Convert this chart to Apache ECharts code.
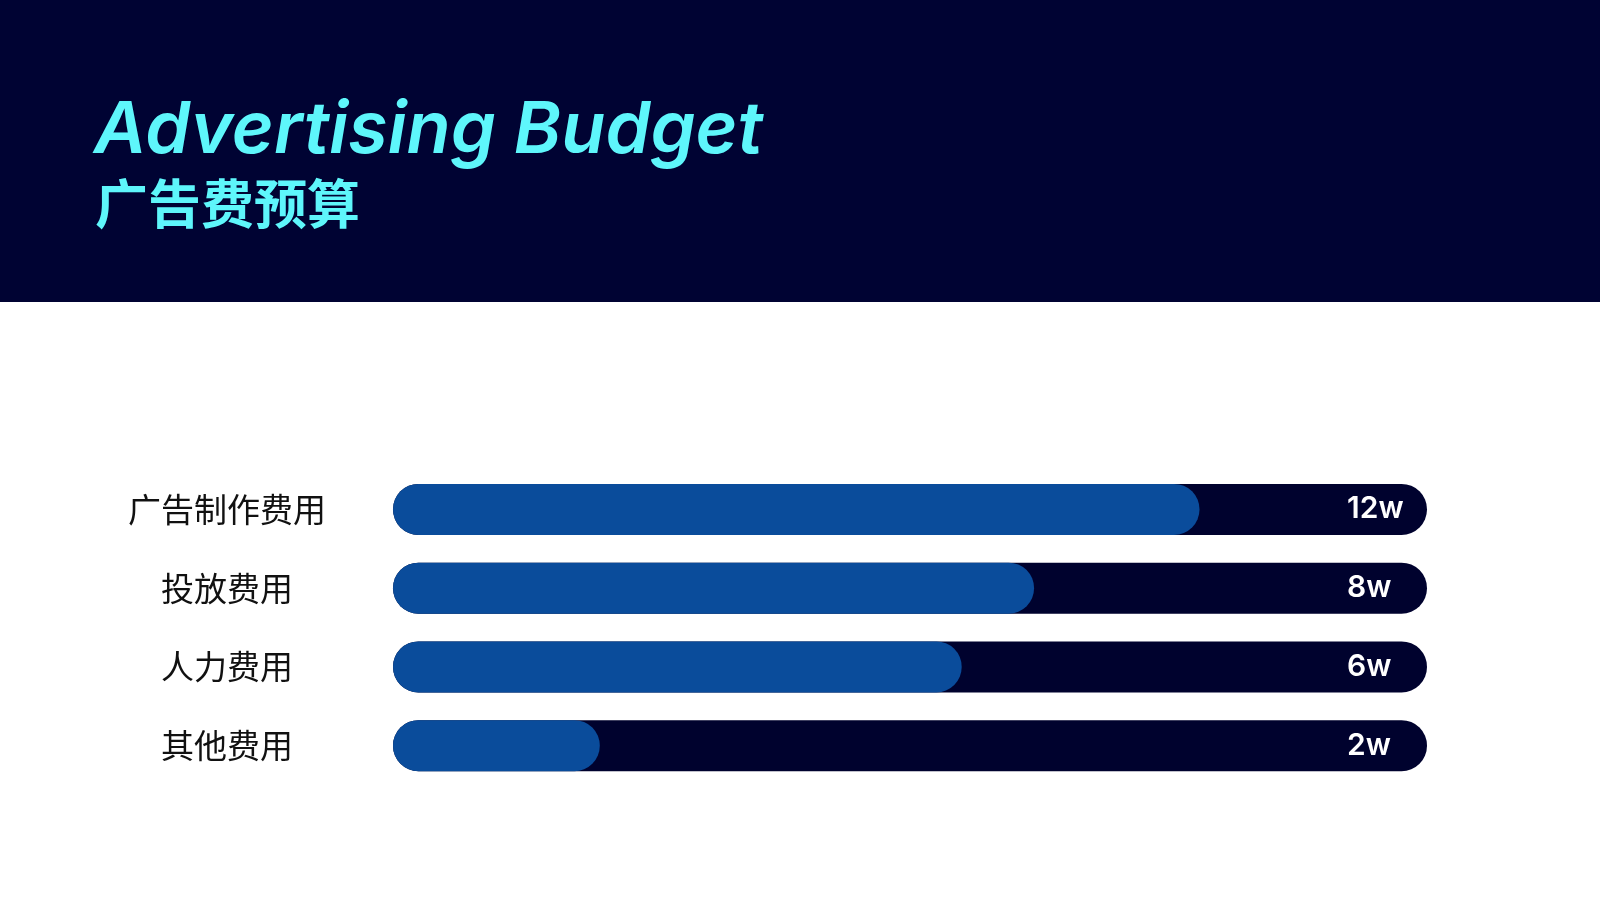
<!DOCTYPE html>
<html>
<head>
<meta charset="utf-8">
<script src="https://cdn.jsdelivr.net/npm/echarts@6/dist/echarts.min.js"></script>
<style>
  html, body { margin: 0; padding: 0; background: #ffffff; }
  #main { width: 1600px; height: 900px; }
</style>
</head>
<body>
<div id="main"></div>
<script>
// 数据
var categories = ['广告制作费用', '投放费用', '人力费用', '其他费用'];
var amounts = ['12w', '8w', '6w', '2w'];
var progress = [78, 62, 55, 20];
var trackMax = [100, 100, 100, 100];

var myChart = echarts.init(document.getElementById('main'));

var option = {
    backgroundColor: '#ffffff',
    graphic: [{
        type: 'rect',
        left: 0,
        top: 0,
        z: -10,
        shape: { width: 1600, height: 302 },
        style: { fill: '#000333' }
    }],
    title: [{
        text: 'Advertising Budget',
        left: 89,
        top: 90,
        textStyle: {
            color: '#5ef6fb',
            fontFamily: 'Inter',
            fontStyle: 'italic',
            fontWeight: 600,
            fontSize: 72
        }
    }, {
        text: '广告费预算',
        left: 90,
        top: 172,
        textStyle: {
            color: '#5ef6fb',
            fontFamily: 'Noto Sans CJK SC',
            fontWeight: 'bold',
            fontSize: 53
        }
    }],
    grid: {
        left: 393,
        right: 173,
        top: 470,
        height: 315
    },
    xAxis: {
        type: 'value',
        min: 0,
        max: 100,
        show: false
    },
    yAxis: {
        type: 'category',
        data: categories,
        inverse: true,
        axisLine: { show: false },
        axisTick: { show: false },
        axisLabel: {
            align: 'center',
            margin: 166,
            color: '#111111',
            fontFamily: 'Noto Sans CJK SC',
            fontSize: 33
        }
    },
    series: [{
        name: '总额',
        type: 'bar',
        data: trackMax,
        barWidth: 51,
        barGap: '-100%',
        silent: true,
        itemStyle: {
            color: '#00022e',
            borderRadius: 26
        },
        label: {
            show: true,
            position: [954, '50%'],
            align: 'left',
            verticalAlign: 'middle',
            color: '#ffffff',
            fontFamily: 'Inter',
            fontWeight: 600,
            fontSize: 30,
            formatter: function (p) { return amounts[p.dataIndex]; }
        }
    }, {
        name: '进度',
        type: 'bar',
        data: progress,
        barWidth: 51,
        barGap: '-100%',
        itemStyle: {
            color: '#0a4c9b',
            borderRadius: 26
        }
    }]
};

myChart.setOption(option);
</script>
</body>
</html>
